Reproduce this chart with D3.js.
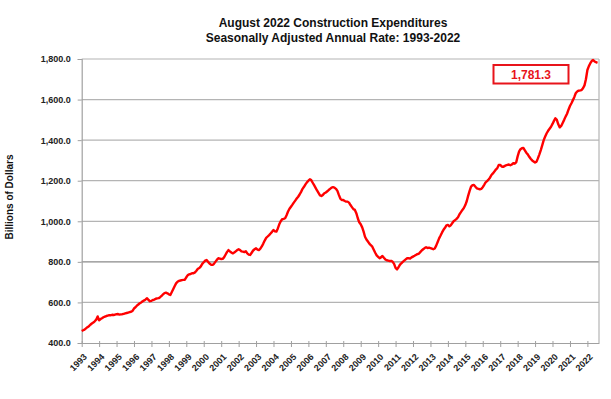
<!DOCTYPE html>
<html>
<head>
<meta charset="utf-8">
<script src="https://cdn.jsdelivr.net/npm/d3@7"></script>
<style>
  body { margin: 0; background: #fff; }
  text { font-family: Arial, "Liberation Sans", sans-serif; }
</style>
</head>
<body>
<div id="chart"></div>
<script>
// Chart size (matches the browser window).
var width = 611;
var height = 399;

// Plot area edges, in pixels.
var m = { left: 81.7, right: 599, top: 59, bottom: 343 };

// First month of the series and the label of the last value.
var startYear = 1993;
var lastLabel = "1,781.3";

// Monthly spending, billions of dollars (SAAR).
var v1993 = [459, 463, 466, 472, 478, 483, 490, 496, 501, 507, 515, 531];
var v1994 = [512, 518, 522, 527, 530, 533, 535, 537, 537, 539, 538, 540];
var v1995 = [542, 543, 540, 541, 542, 544, 546, 548, 550, 552, 554, 558];
var v1996 = [570, 576, 584, 590, 596, 600, 606, 610, 615, 621, 612, 606];
var v1997 = [608, 612, 614, 618, 620, 621, 626, 632, 640, 646, 648, 645];
var v1998 = [640, 637, 650, 665, 680, 694, 702, 706, 708, 710, 711, 712];
var v1999 = [724, 735, 738, 740, 744, 744, 748, 756, 766, 770, 778, 790];
var v2000 = [798, 806, 809, 800, 792, 786, 785, 790, 800, 810, 818, 816];
var v2001 = [814, 815, 822, 835, 848, 858, 852, 846, 842, 846, 852, 858];
var v2002 = [862, 858, 852, 850, 848, 852, 842, 836, 834, 845, 856, 862];
var v2003 = [867, 860, 858, 865, 876, 890, 905, 918, 925, 932, 940, 948];
var v2004 = [957, 950, 949, 965, 985, 1000, 1010, 1012, 1015, 1030, 1048, 1062];
var v2005 = [1072, 1082, 1092, 1102, 1112, 1121, 1132, 1145, 1160, 1170, 1182, 1192];
var v2006 = [1200, 1207, 1203, 1190, 1178, 1165, 1152, 1140, 1128, 1125, 1130, 1138];
var v2007 = [1142, 1148, 1154, 1160, 1166, 1168, 1166, 1160, 1150, 1130, 1112, 1105];
var v2008 = [1105, 1100, 1097, 1097, 1092, 1080, 1070, 1060, 1056, 1040, 1015, 995];
var v2009 = [985, 970, 950, 924, 910, 900, 890, 882, 875, 860, 845, 832];
var v2010 = [825, 818, 822, 829, 820, 812, 808, 806, 804, 805, 800, 790];
var v2011 = [770, 763, 772, 785, 793, 800, 806, 812, 818, 818, 816, 822];
var v2012 = [826, 830, 834, 838, 840, 848, 856, 862, 868, 872, 868, 870];
var v2013 = [868, 865, 862, 866, 880, 898, 916, 930, 945, 958, 968, 980];
var v2014 = [982, 975, 980, 990, 1000, 1006, 1012, 1020, 1035, 1045, 1056, 1065];
var v2015 = [1080, 1100, 1125, 1150, 1171, 1178, 1179, 1170, 1162, 1160, 1158, 1160];
var v2016 = [1168, 1180, 1192, 1198, 1206, 1215, 1228, 1236, 1245, 1255, 1262, 1278];
var v2017 = [1278, 1270, 1268, 1272, 1276, 1278, 1280, 1276, 1280, 1286, 1284, 1290];
var v2018 = [1320, 1345, 1355, 1360, 1362, 1350, 1338, 1330, 1318, 1308, 1300, 1295];
var v2019 = [1290, 1294, 1310, 1330, 1351, 1375, 1400, 1418, 1434, 1446, 1456, 1466];
var v2020 = [1480, 1495, 1508, 1500, 1478, 1463, 1470, 1485, 1500, 1516, 1530, 1550];
var v2021 = [1568, 1582, 1596, 1612, 1631, 1640, 1644, 1645, 1647, 1656, 1670, 1700];
var v2022 = [1746, 1765, 1778, 1790, 1795, 1788, 1784, 1781.3];

// Y axis ticks.
var yTicks = [400, 600, 800, 1000, 1200, 1400, 1600, 1800];

var values = [].concat(v1993, v1994, v1995, v1996, v1997, v1998, v1999, v2000,
  v2001, v2002, v2003, v2004, v2005, v2006, v2007, v2008, v2009, v2010,
  v2011, v2012, v2013, v2014, v2015, v2016, v2017, v2018, v2019, v2020,
  v2021, v2022);

var data = values.map(function(d, i) {
  return { date: new Date(startYear, i, 1), value: d };
});

var years = d3.range(startYear, 2023);

var svg = d3.select("#chart").append("svg")
    .attr("width", width)
    .attr("height", height);

var x = d3.scaleTime()
    .domain([new Date(startYear, 0, 1), new Date(2022, 8, 1)])
    .range([m.left, m.right]);

var y = d3.scaleLinear()
    .domain([400, 1800])
    .range([m.bottom, m.top]);

// Horizontal gridlines.
svg.append("g").selectAll("line")
    .data(yTicks.filter(function(d) { return d > 400; }))
    .enter().append("line")
    .attr("x1", m.left)
    .attr("x2", m.right)
    .attr("y1", function(d) { return y(d); })
    .attr("y2", function(d) { return y(d); })
    .attr("stroke", function(d) { return d === 800 ? "#8a8a8a" : "#b4b4b4"; })
    .attr("stroke-width", 1.2);

// Right border of the plot.
svg.append("line")
    .attr("x1", m.right).attr("x2", m.right)
    .attr("y1", m.top).attr("y2", m.bottom)
    .attr("stroke", "#b4b4b4")
    .attr("stroke-width", 1.2);

// Y axis.
var yAxis = svg.append("g")
    .attr("transform", "translate(" + m.left + ",0)")
    .call(d3.axisLeft(y)
      .tickValues(yTicks)
      .tickSize(4)
      .tickPadding(7)
      .tickFormat(d3.format(",.1f")));
yAxis.select(".domain").attr("stroke", "#a0a0a0").attr("stroke-width", 1.2);
yAxis.selectAll(".tick line").attr("stroke", "#a0a0a0");
yAxis.selectAll("text")
    .attr("fill", "#222")
    .style("font-size", "9px")
    .style("font-weight", "bold");

// X axis: one tick per January.
var xAxis = svg.append("g")
    .attr("transform", "translate(0," + m.bottom + ")")
    .call(d3.axisBottom(x)
      .tickValues(years.map(function(yr) { return new Date(yr, 0, 1); }))
      .tickSize(4)
      .tickSizeOuter(0)
      .tickFormat(d3.timeFormat("%Y")));
xAxis.select(".domain").attr("stroke", "#a0a0a0").attr("stroke-width", 1.2);
xAxis.selectAll(".tick line").attr("stroke", "#a0a0a0").attr("y1", -2);
xAxis.selectAll("text")
    .attr("fill", "#222")
    .style("font-size", "9px")
    .style("font-weight", "bold")
    .attr("text-anchor", "end")
    .attr("dy", "0.35em")
    .attr("transform", "translate(-1,8) rotate(-45)")
    .attr("x", 0)
    .attr("y", 6);

// The series.
var line = d3.line()
    .x(function(d) { return x(d.date); })
    .y(function(d) { return y(d.value); });

svg.append("path")
    .datum(data)
    .attr("d", line)
    .attr("fill", "none")
    .attr("stroke", "#ff0000")
    .attr("stroke-width", 2.4)
    .attr("stroke-linejoin", "round");

// Title.
var title = svg.append("text")
    .attr("x", 333)
    .attr("text-anchor", "middle")
    .style("font-size", "12px")
    .style("font-weight", "bold")
    .attr("fill", "#111");
title.append("tspan").attr("x", 333).attr("y", 27)
    .text("August 2022 Construction Expenditures");
title.append("tspan").attr("x", 333).attr("y", 42)
    .text("Seasonally Adjusted Annual Rate: 1993-2022");

// Y axis title.
svg.append("text")
    .attr("transform", "translate(13,197) rotate(-90)")
    .attr("text-anchor", "middle")
    .style("font-size", "10px")
    .style("font-weight", "bold")
    .attr("fill", "#111")
    .text("Billions of Dollars");

// Latest value callout.
svg.append("rect")
    .attr("x", 493.5)
    .attr("y", 65)
    .attr("width", 75)
    .attr("height", 18.5)
    .attr("fill", "#fff")
    .attr("stroke", "#e8141b")
    .attr("stroke-width", 2);

svg.append("text")
    .attr("x", 531)
    .attr("y", 78.5)
    .attr("text-anchor", "middle")
    .style("font-size", "12px")
    .style("font-weight", "bold")
    .attr("fill", "#e8141b")
    .text(lastLabel);
</script>
</body>
</html>
